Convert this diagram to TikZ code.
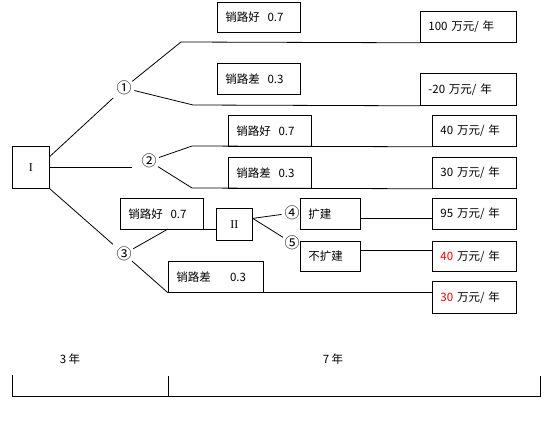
\documentclass[tikz,border=0pt]{standalone}
\usepackage{fontspec,xcolor}
\setmainfont{Liberation Serif}
\newfontfamily\cjk{Noto Sans CJK SC}
\usetikzlibrary{positioning,calc}

\begin{document}
\begin{tikzpicture}[x=1pt,y=-1pt,line width=0.8pt,
      every node/.style={font=\cjk\fontsize{11.5}{13}\selectfont},
      box/.style={draw,anchor=north west,inner xsep=8pt,inner ysep=0pt,align=left},
      decision/.style={draw,anchor=north west,font=\fontsize{12}{14}\selectfont},
      chance/.style={circle,inner sep=0pt,minimum size=14pt,font=\cjk\fontsize{15}{15}\selectfont}]
    \useasboundingbox (0,0) rectangle (553,427);
    % Decision nodes
    \node[decision,minimum width=37pt,minimum height=42pt] (I)  at (12,146)  {I};
    \node[decision,minimum width=36pt,minimum height=32pt] (II) at (216,208) {II};
    % Chance nodes
    \node[chance] (c1) at (124,88)  {①};
    \node[chance] (c2) at (149,161) {②};
    \node[chance] (c3) at (124,254) {③};
    \node[chance] (c4) at (292,213) {④};
    \node[chance] (c5) at (292,243) {⑤};
    % Probability boxes
    \node[box,text width=67pt,minimum height=30pt] (g1) at (217,2)   {销路好\ \ 0.7};
    \node[box,text width=67pt,minimum height=31pt] (b1) at (217,63)  {销路差\ \ 0.3};
    \node[box,text width=67pt,minimum height=31pt] (g2) at (228,115) {销路好\ \ 0.7};
    \node[box,text width=67pt,minimum height=31pt] (b2) at (228,157) {销路差\ \ 0.3};
    \node[box,text width=67pt,minimum height=31pt] (g3) at (120,198) {销路好\ \ 0.7};
    \node[box,text width=79pt,minimum height=31pt] (b3) at (168,261) {销路差\ \ \ \ \ 0.3};
    \node[box,text width=44pt,minimum height=31pt] (e1) at (300,198) {扩建};
    \node[box,text width=44pt,minimum height=30pt] (n1) at (300,241) {不扩建};
    % Profit boxes
    \node[box,text width=80pt,minimum height=31pt] (v1) at (420,11)  {100 万元/ 年};
    \node[box,text width=80pt,minimum height=32pt] (v2) at (420,73)  {-20 万元/ 年};
    \node[box,text width=68pt,minimum height=31pt] (v3) at (432,115) {40 万元/ 年};
    \node[box,text width=68pt,minimum height=31pt] (v4) at (432,157) {30 万元/ 年};
    \node[box,text width=68pt,minimum height=31pt] (v5) at (432,198) {95 万元/ 年};
    \node[box,text width=68pt,minimum height=30pt] (v6) at (432,241) {\textcolor{red}{40} 万元/ 年};
    \node[box,text width=68pt,minimum height=32pt] (v7) at (432,281) {\textcolor{red}{30} 万元/ 年};
    % Bends
    \coordinate (k1) at (181,42);
    \coordinate (k2) at (193,105);
    \coordinate (k3) at (192,146);
    \coordinate (k4) at (192,188);
    \coordinate (k5) at (168,229);
    % Branches
    \draw[shorten >=4pt] (I.30) -- (c1);
    \draw[shorten >=6pt] (I.east) -- (I.east -| c2.west);
    \draw[shorten >=4pt] (I.south east) -- (c3);
    \draw (c1) -- (k1) -- (v1.south west);
    \draw (c1) -- (k2) -- (v2.south west);
    \draw (c2) -- (k3) -- (v3.south west);
    \draw (c2) -- (k4) -- (v4.south west);
    \draw (c3) -- (k5);
    \draw (g3.south east) -- (g3.south east -| II.west);
    \draw (c3) -- (b3.south west);
    \draw (b3.south east) -- (b3.south east -| v7.west);
    \draw ([yshift=6pt]II.east) -- (c4);
    \draw ([yshift=6pt]II.east) -- (c5);
    \draw ([yshift=-5pt]e1.east) -- ([yshift=-5pt]v5.west);
    \draw ([yshift=6pt]n1.east) -- ([yshift=6pt]v6.west);
    % Time axis
    \node (t1) at (70,359)  {3 年};
    \node (t2) at (333,359) {7 年};
    \draw (12,375) |- (540,396) -- (540,376);
    \draw (168,376) -- (168,396);
  \end{tikzpicture}
\end{document}
